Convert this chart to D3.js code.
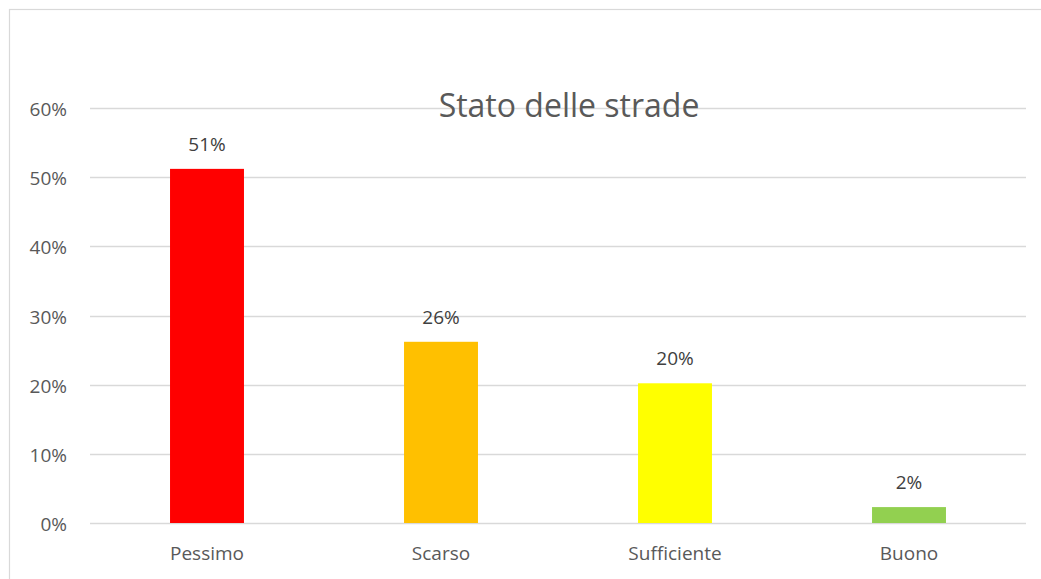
<!DOCTYPE html>
<html>
<head>
<meta charset="utf-8">
<script src="https://cdn.jsdelivr.net/npm/d3@7"></script>
<style>
  body { margin: 0; background: #fff; }
  svg { display: block; font-family: "Open Sans", "Noto Sans", sans-serif; }
</style>
</head>
<body>
<div id="chart"></div>
<script>
// dati del grafico
const categories = ['Pessimo', 'Scarso', 'Sufficiente', 'Buono'];
const values = [0.512, 0.262, 0.202, 0.023];
const labels = ['51%', '26%', '20%', '2%'];
const barColors = ['#FF0000', '#FFC000', '#FFFF00', '#92D050'];
const yTicks = [0, 0.1, 0.2, 0.3, 0.4, 0.5, 0.6];
const title = 'Stato delle strade';

const width = 1041, height = 579;
const margin = { left: 90, right: 15, top: 108, bottom: 56 };

const svg = d3.select('#chart').append('svg')
  .attr('width', width)
  .attr('height', height);

// cornice
svg.append('rect')
  .attr('x', 9.5).attr('y', 9.5)
  .attr('width', width + 10).attr('height', height + 10)
  .attr('fill', 'none')
  .attr('stroke', '#d9d9d9')
  .attr('stroke-width', 1.2);

const x = d3.scaleBand()
  .domain(categories)
  .range([margin.left, width - margin.right])
  .paddingInner(0.684)
  .paddingOuter(0.342);

const y = d3.scaleLinear()
  .domain([0, 0.6])
  .range([height - margin.bottom, margin.top]);

// griglia
svg.append('g')
  .selectAll('line')
  .data(yTicks)
  .join('line')
  .attr('x1', margin.left)
  .attr('x2', width - margin.right)
  .attr('y1', d => Math.round(y(d)) + 0.5)
  .attr('y2', d => Math.round(y(d)) + 0.5)
  .attr('stroke', '#d9d9d9')
  .attr('stroke-width', 1.3);

// asse y
const yAxis = svg.append('g')
  .attr('transform', `translate(${margin.left - 23},0)`)
  .call(d3.axisLeft(y).tickValues(yTicks).tickFormat(d3.format('.0%')).tickSize(0).tickPadding(0));
yAxis.select('.domain').remove();
yAxis.selectAll('text')
  .attr('fill', '#595959')
  .attr('dy', '0.4em')
  .style('font-size', '19px')
  .style('font-family', '"Open Sans", sans-serif');

// asse x
const xAxis = svg.append('g')
  .attr('transform', `translate(0,${height - margin.bottom + 23})`)
  .call(d3.axisBottom(x).tickSize(0).tickPadding(0));
xAxis.select('.domain').remove();
xAxis.selectAll('text')
  .attr('fill', '#595959')
  .style('font-size', '19px')
  .style('font-family', '"Open Sans", sans-serif');

// barre
svg.append('g')
  .selectAll('rect')
  .data(values)
  .join('rect')
  .attr('x', (d, i) => x(categories[i]))
  .attr('y', d => y(d))
  .attr('width', x.bandwidth())
  .attr('height', d => y(0) - y(d))
  .attr('fill', (d, i) => barColors[i]);

// etichette dati
svg.append('g')
  .selectAll('text')
  .data(values)
  .join('text')
  .attr('x', (d, i) => x(categories[i]) + x.bandwidth() / 2)
  .attr('y', d => y(d) - 18)
  .attr('text-anchor', 'middle')
  .attr('fill', '#404040')
  .style('font-size', '19px')
  .text((d, i) => labels[i]);

// titolo
svg.append('text')
  .attr('x', 569)
  .attr('y', 117)
  .attr('text-anchor', 'middle')
  .attr('fill', '#595959')
  .style('font-size', '32px')
  .text(title);
</script>
</body>
</html>
